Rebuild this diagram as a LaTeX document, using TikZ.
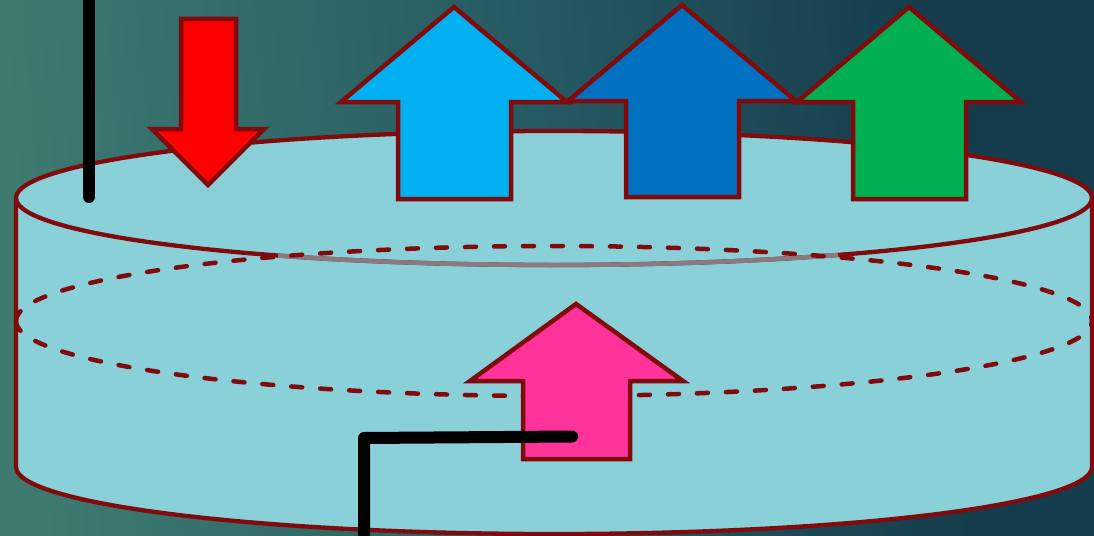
\documentclass[tikz,border=0pt]{standalone}
\definecolor{edgered}{HTML}{800A0C}
\definecolor{water}{HTML}{8AD0D8}
\definecolor{bgleft}{HTML}{3E7A70}
\definecolor{bgmid}{HTML}{265A62}
\definecolor{bgright}{HTML}{153C4C}
\definecolor{fadeline}{HTML}{8A7A80}
\definecolor{skyarrow}{HTML}{00B0F0}
\definecolor{bluearrow}{HTML}{0070C0}
\definecolor{greenarrow}{HTML}{00B050}
\definecolor{pinkarrow}{HTML}{FF3399}
\pgfdeclarehorizontalshading{bgshade}{100bp}{color(0bp)=(bgleft); color(25bp)=(bgleft); color(50bp)=(bgmid); color(69bp)=(bgright); color(100bp)=(bgright)}
\tikzset{
  edgeline/.style={draw=edgered,line width=4.3pt,line join=miter},
  arrowshape/.style={draw=edgered,line width=4.5pt,line join=miter,miter limit=10},
  dashring/.style={draw=edgered,line width=4.5pt,line cap=round,dash pattern=on 11pt off 18pt},
  wire/.style={draw=black,line width=12pt,line cap=round,line join=round},
}
\begin{document}
\begin{tikzpicture}[x=1pt,y=-1pt]
\useasboundingbox (0,0) rectangle (1094,535);
\shade[shading=bgshade,shading angle=5] (0,0) rectangle (1094,535);
\clip (0,0) rectangle (1094,535);
% cylinder body
\path[fill=water] (16,198) -- (16,467) arc[start angle=180,end angle=360,x radius=538,y radius=-67] -- (1092,198) arc[start angle=0,end angle=180,x radius=538,y radius=-67] -- cycle;
\path[edgeline] (16,198) -- (16,467) arc[start angle=180,end angle=360,x radius=538,y radius=-67] -- (1092,198);
% top ellipse
\path[edgeline] (554,198) ellipse[x radius=538,y radius=67];
\begin{scope}
\clip (278,240) rectangle (838,272);
\path[draw=fadeline,line width=4.5pt] (554,198) ellipse[x radius=538,y radius=67];
\end{scope}
% dashed middle ring
\path[dashring] (16,321) arc[start angle=180,end angle=0,x radius=538,y radius=-75];
\path[dashring] (16,321) arc[start angle=180,end angle=360,x radius=538,y radius=-75];
% arrows
\path[arrowshape,fill=red] (181,19) -- (236,19) -- (236,129) -- (264,129) -- (208,185) -- (152,129) -- (181,129) -- cycle;
\path[arrowshape,fill=skyarrow] (454,7) -- (567,102) -- (511,102) -- (511,199) -- (398,199) -- (398,102) -- (341,102) -- cycle;
\path[arrowshape,fill=bluearrow] (682,5) -- (796,101) -- (739,101) -- (739,197) -- (626,197) -- (626,101) -- (568,101) -- cycle;
\path[arrowshape,fill=greenarrow] (909,7) -- (1021,102) -- (966,102) -- (966,199) -- (853,199) -- (853,102) -- (797,102) -- cycle;
\path[arrowshape,fill=pinkarrow] (576,304) -- (683,381) -- (630,381) -- (630,459) -- (523,459) -- (523,381) -- (470,381) -- cycle;
% wires
\path[wire] (89,-10) -- (89,197);
\path[wire] (364,545) -- (364,438) -- (572,436.5);
\end{tikzpicture}
\end{document}
